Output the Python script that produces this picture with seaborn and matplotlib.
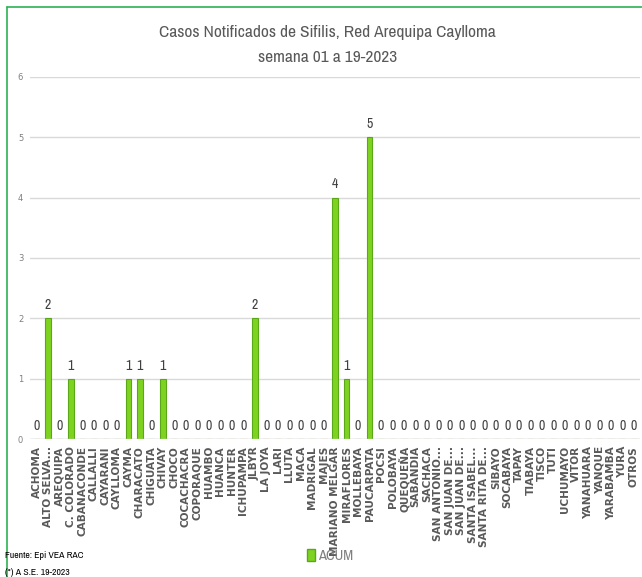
import numpy as np
import pandas as pd
import seaborn as sns
import matplotlib.pyplot as plt
from matplotlib.patches import Patch
from matplotlib.lines import Line2D

districts = [
    "ACHOMA", "ALTO SELVA...", "AREQUIPA", "C. COLORADO", "CABANACONDE", "CALLALLI",
    "CAYARANI", "CAYLLOMA", "CAYMA", "CHARACATO", "CHIGUATA", "CHIVAY", "CHOCO",
    "COCACHACRA", "COPORAQUE", "HUAMBO", "HUANCA", "HUNTER", "ICHUPAMPA", "JLBYR",
    "LA JOYA", "LARI", "LLUTA", "MACA", "MADRIGAL", "MAJES", "MARIANO MELGAR",
    "MIRAFLORES", "MOLLEBAYA", "PAUCARPATA", "POCSI", "POLOBAYA", "QUEQUEÑA",
    "SABANDIA", "SACHACA", "SAN ANTONIO...", "SAN JUAN DE...", "SAN JUAN DE...",
    "SANTA ISABEL...", "SANTA RITA DE...", "SIBAYO", "SOCABAYA", "TAPAY", "TIABAYA",
    "TISCO", "TUTI", "UCHUMAYO", "VITOR", "YANAHUARA", "YANQUE", "YARABAMBA",
    "YURA", "OTROS",
]
acum = [
    0, 2, 0, 1, 0, 0, 0, 0, 1, 1, 0, 1, 0,
    0, 0, 0, 0, 0, 0, 2, 0, 0, 0, 0, 0, 0, 4,
    1, 0, 5, 0, 0, 0, 0, 0, 0, 0, 0, 0, 0, 0,
    0, 0, 0, 0, 0, 0, 0, 0, 0, 0, 0, 0,
]

narrow = ["Liberation Sans Narrow", "Archivo Narrow", "Liberation Sans", "DejaVu Sans"]

df = pd.DataFrame({"pos": range(len(districts)), "acum": acum})

sns.set_style("white")
fig = plt.figure(figsize=(6.42, 5.77), dpi=100)
ax = fig.add_axes([0.047, 0.239, 0.95, 0.628])

sns.barplot(data=df, x="pos", y="acum", color="#7ed321", width=0.5,
            edgecolor="#5aa817", linewidth=0.8, saturation=1, ax=ax)

ax.set_ylim(0, 6)
ax.set_yticks(range(7))
ax.yaxis.grid(True, color="#d9d9d9", linewidth=1)
ax.set_axisbelow(True)
for s in ax.spines.values():
    s.set_visible(False)
ax.axhline(0, color="#d9d9d9", linewidth=1)
ax.tick_params(axis="y", length=0, labelsize=6, labelcolor="#7f7f7f", pad=5)
ax.tick_params(axis="x", length=0, pad=5)
ax.set_xticks(range(len(districts)))
ax.set_xticklabels(districts, rotation=90, fontsize=7.6, fontweight="bold",
                   color="#595959", family="DejaVu Sans")
ax.set_xlabel("")
ax.set_ylabel("")
ax.set_xlim(-0.55, len(districts) - 0.45)

for i, v in enumerate(acum):
    ax.text(i, v + 0.1, str(v), ha="center", va="bottom", fontsize=10,
            fontweight="bold", color="#404040", family=narrow)

fig.text(0.51, 0.944, "Casos Notificados de Sifilis, Red Arequipa Caylloma",
         ha="center", va="center", fontsize=12.5, fontweight="bold",
         color="#595959", family=narrow)
fig.text(0.51, 0.901, "semana 01 a 19-2023", ha="center", va="center",
         fontsize=12.5, fontweight="bold", color="#595959", family=narrow)

fig.legend(handles=[Patch(facecolor="#7ed321", edgecolor="#5aa817")], labels=["ACUM"],
           loc="center", bbox_to_anchor=(0.514, 0.037), frameon=False,
           handlelength=0.6, handleheight=0.9, handletextpad=0.2,
           prop={"family": narrow, "size": 10.5})
for t in fig.legends[0].get_texts():
    t.set_color("#7f7f7f")

fig.text(0.008, 0.033, "Fuente: Epi VEA RAC", fontsize=7, fontweight="bold",
         family=narrow, color="black")
fig.text(0.008, 0.004, "(*) A S.E. 19-2023", fontsize=7, fontweight="bold",
         family=narrow, color="black")

border = "#2eb350"
fig.add_artist(Line2D([0.011, 0.011], [0.0, 0.988], color=border, linewidth=1.2))
fig.add_artist(Line2D([0.011, 1.0], [0.988, 0.988], color=border, linewidth=1.2))

fig.savefig("out.png", dpi=100)
